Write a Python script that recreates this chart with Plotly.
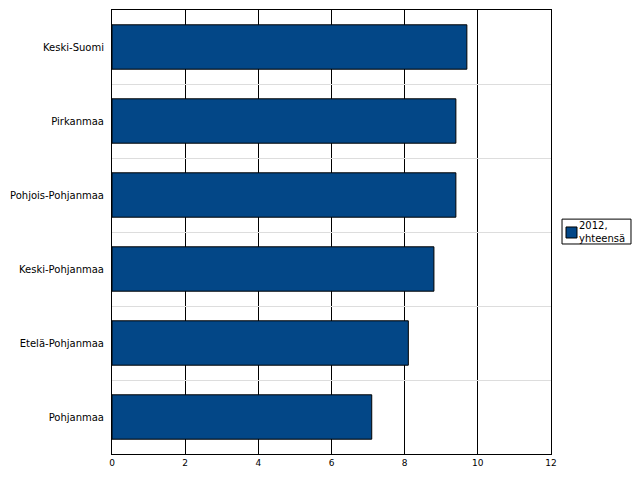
import plotly.graph_objects as go

regions = ["Keski-Suomi", "Pirkanmaa", "Pohjois-Pohjanmaa", "Keski-Pohjanmaa", "Etelä-Pohjanmaa", "Pohjanmaa"]
values_2012 = [9.7, 9.4, 9.4, 8.8, 8.1, 7.1]
series_name = "2012,<br>yhteensä"
x_ticks = [0, 2, 4, 6, 8, 10, 12]
bar_color = "#034787"

fig = go.Figure()
fig.add_trace(go.Bar(
    y=regions, x=values_2012, orientation="h", name=series_name,
    marker=dict(color=bar_color, line=dict(color="black", width=1)),
    showlegend=False,
))

# legend drawn as paper-referenced box, swatch and text
fig.add_shape(type="rect", xref="paper", yref="paper", x0=1.0251, x1=1.1822, y0=0.473, y1=0.529,
              line=dict(color="black", width=1), fillcolor="white")
fig.add_shape(type="rect", xref="paper", yref="paper", x0=1.0342, x1=1.0592, y0=0.4865, y1=0.5113,
              line=dict(color="black", width=1), fillcolor=bar_color)
fig.add_annotation(text=series_name, xref="paper", yref="paper", x=1.0615, y=0.529,
                   xanchor="left", yanchor="top", align="left", showarrow=False,
                   font=dict(size=10, color="black"), borderpad=0)

fig.update_layout(
    width=640, height=480,
    margin=dict(l=112, r=89, t=10, b=26, autoexpand=False),
    paper_bgcolor="white", plot_bgcolor="white",
    font=dict(family="DejaVu Sans", size=10, color="black"),
    bargap=0.4,
    showlegend=False,
    xaxis=dict(range=[0, 12], tickvals=x_ticks, showgrid=True, gridcolor="black", gridwidth=1,
               zeroline=False, showline=True, linecolor="black", linewidth=1, mirror=True,
               ticks="", tickfont=dict(size=9), fixedrange=True),
    yaxis=dict(autorange="reversed", type="category", categoryorder="array", categoryarray=regions,
               tickson="boundaries", showgrid=True, gridcolor="#dddddd", gridwidth=1,
               showline=True, linecolor="black", linewidth=1, mirror=True,
               ticks="", ticklabelstandoff=5, tickfont=dict(size=10)),
)

fig.write_html("out.html")
